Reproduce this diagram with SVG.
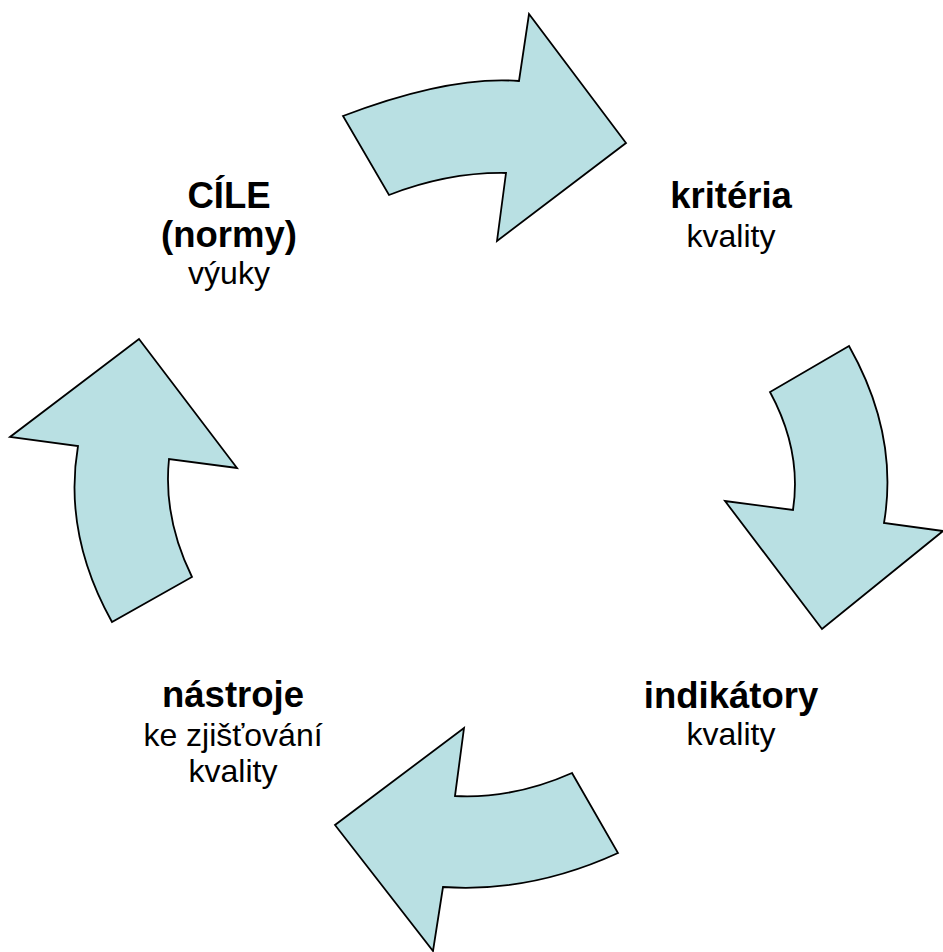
<svg xmlns="http://www.w3.org/2000/svg" width="943" height="952" viewBox="0 0 943 952">
<style>
.arr{fill:#B9E0E3;stroke:#000;stroke-width:1.8;stroke-linejoin:miter}
text{font-family:"Liberation Sans",Arial,sans-serif;font-size:32px;text-anchor:middle;fill:#000}
.b{font-weight:bold;font-size:36.5px}
</style>
<rect width="943" height="952" fill="#fff"/>
<g id="connectors">
<path id="arrow-top" class="arr" d="M343,116 Q449,75.5 519,81 L529,14 L626,143 L497,241 L506,173 Q448.5,172 389,195 Z"/>
<path id="arrow-right" class="arr" d="M849,346 L770,392 Q802,451 793,510 L725,501 L822,629 L943,531 L884,523 Q899,434.5 849,346 Z"/>
<path id="arrow-bottom" class="arr" d="M572,773 L618,853 Q530.5,893 443,887 L433,951 L335,825 L464,728 L455,796 Q513.5,799 572,773 Z"/>
<path id="arrow-left" class="arr" d="M139,339 L237,468 L169,459 Q163,518 192,577 L112,622 Q63,534 78,446 L10,437 Z"/>
</g>
<g id="node-cile">
<text x="229" y="208" class="b">CÍLE</text>
<text x="229" y="247" class="b">(normy)</text>
<text x="229" y="284">výuky</text>
</g>
<g id="node-kriteria">
<text x="731" y="208" class="b">kritéria</text>
<text x="731" y="247">kvality</text>
</g>
<g id="node-indikatory">
<text x="731" y="708" class="b">indikátory</text>
<text x="731" y="745">kvality</text>
</g>
<g id="node-nastroje">
<text x="233" y="707" class="b">nástroje</text>
<text x="233" y="746">ke zjišťování</text>
<text x="233" y="782">kvality</text>
</g>
</svg>
